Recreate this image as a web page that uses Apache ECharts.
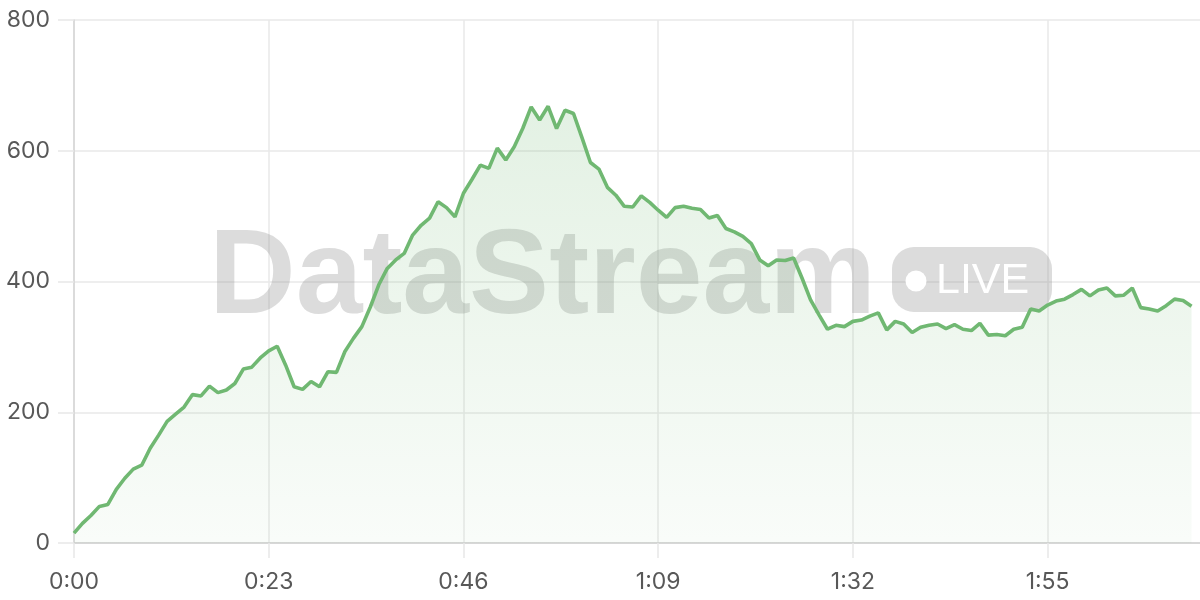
<!DOCTYPE html>
<html>
<head>
<meta charset="utf-8">
<script src="https://cdn.jsdelivr.net/npm/echarts@6/dist/echarts.min.js"></script>
<style>
  html, body { margin: 0; padding: 0; background: #ffffff; }
  #chart { width: 1200px; height: 600px; }
</style>
</head>
<body>
<div id="chart"></div>
<script>
// Elapsed seconds shown on the x axis (0:00 .. 2:13)
var totalSeconds = 134;
// Stream values, one per second
var values = [
  15, 30, 42, 56, 59, 82, 99, 113, 119, 145,
  165, 186, 197, 208, 227, 225, 240, 230, 234, 244,
  266, 269, 283, 294, 301, 272, 239, 235, 247, 239,
  262, 261, 293, 313, 331, 361, 395, 420, 433, 443,
  471, 486, 497, 522, 513, 499, 535, 556, 578, 573,
  604, 586, 606, 634, 667, 647, 668, 634, 662, 657,
  620, 582, 572, 544, 532, 515, 514, 531, 521, 509,
  498, 513, 515, 512, 510, 497, 501, 481, 476, 469,
  458, 433, 424, 433, 432, 436, 405, 372, 349, 327,
  333, 331, 339, 341, 347, 352, 326, 339, 335, 322,
  330, 333, 335, 328, 334, 327, 325, 336, 318, 319,
  317, 327, 330, 358, 355, 364, 370, 373, 380, 388,
  378, 387, 390, 378, 379, 390, 360, 358, 355, 363,
  373, 371, 362
];
var yTicks = { min: 0, max: 800, step: 200 };
var watermarkTitle = 'DataStream';
var watermarkBadge = 'LIVE';

var categories = [];
for (var s = 0; s < totalSeconds; s++) {
  var m = Math.floor(s / 60), sec = s % 60;
  categories.push(m + ':' + (sec < 10 ? '0' : '') + sec);
}

var chart = echarts.init(document.getElementById('chart'), null, { renderer: 'canvas' });
var FONT = 'Inter, "Noto Sans", sans-serif';
var option = {
  animation: false,
  backgroundColor: '#ffffff',
  grid: { left: 74, right: 0, top: 20, bottom: 57, containLabel: false },
  xAxis: {
    type: 'category',
    data: categories,
    boundaryGap: false,
    axisLine: { show: true, lineStyle: { color: '#cfcfcf', width: 1.5 } },
    axisTick: { show: true, interval: 22, length: 15, lineStyle: { color: '#e8e8e8', width: 1.5 } },
    axisLabel: { interval: 22, margin: 28, color: '#585858', fontSize: 23, fontFamily: FONT },
    splitLine: { show: true, interval: 22, lineStyle: { color: '#e8e8e8', width: 1.5 } }
  },
  yAxis: {
    type: 'value',
    min: yTicks.min,
    max: yTicks.max,
    interval: yTicks.step,
    axisLine: { show: true, lineStyle: { color: '#d4d4d4', width: 1.5 } },
    axisTick: { show: true, length: 16, lineStyle: { color: '#e8e8e8', width: 1.5 } },
    axisLabel: { margin: 24, color: '#585858', fontSize: 23, fontFamily: FONT },
    splitLine: { show: true, lineStyle: { color: '#e8e8e8', width: 1.5 } }
  },
  graphic: [
    {
      type: 'text', z: 1, silent: true,
      style: {
        x: 209, y: 280, text: watermarkTitle,
        font: 'bold 120px "Liberation Sans", Arial, sans-serif',
        fill: 'rgba(140,140,140,0.3)',
        textAlign: 'left', textVerticalAlign: 'middle'
      }
    },
    {
      type: 'rect', z: 1, silent: true,
      shape: { x: 892, y: 247, width: 160, height: 65, r: 22 },
      style: { fill: 'rgba(140,140,140,0.3)' }
    },
    {
      type: 'circle', z: 1, silent: true,
      shape: { cx: 916, cy: 281, r: 10.5 },
      style: { fill: '#ffffff' }
    },
    {
      type: 'text', z: 1, silent: true,
      style: {
        x: 936, y: 281, text: watermarkBadge,
        font: '43px "Liberation Sans", Arial, sans-serif',
        fill: '#ffffff',
        textAlign: 'left', textVerticalAlign: 'middle'
      }
    }
  ],
  series: [{
    type: 'line',
    data: values,
    showSymbol: false,
    smooth: false,
    z: 3,
    lineStyle: { color: '#70b872', width: 3.6 },
    itemStyle: { color: '#70b872' },
    areaStyle: {
      color: new echarts.graphic.LinearGradient(0, 0, 0, 1, [
        { offset: 0, color: 'rgba(112,184,114,0.28)' },
        { offset: 1, color: 'rgba(112,184,114,0.06)' }
      ])
    }
  }]
};
chart.setOption(option);
</script>
</body>
</html>
